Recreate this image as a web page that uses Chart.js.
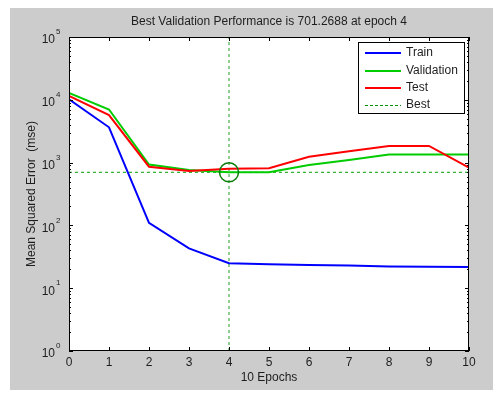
<!DOCTYPE html>
<html>
<head>
<meta charset="utf-8">
<script src="https://cdn.jsdelivr.net/npm/chart.js@4.4.0/dist/chart.umd.min.js"></script>
<style>
    body { margin: 0; background: #ffffff; }
    canvas { display: block; }
</style>
</head>
<body>
<canvas id="perf" width="502" height="399"></canvas>
<script>

var epochs = [0, 1, 2, 3, 4, 5, 6, 7, 8, 9, 10];

var trainPerf = [10200, 3650, 110, 43, 25, 24, 23.5, 23, 22.2, 22, 21.8];
var valPerf = [12900, 7000, 930, 760, 701.2688, 705, 915, 1100, 1350, 1350, 1350];
var testPerf = [11500, 5700, 860, 735, 800, 815, 1240, 1510, 1840, 1840, 830];

var bestEpoch = 4;
var bestPerf = 701.2688;

var seriesNames = ["Train", "Validation", "Test", "Best"];
var xTicks = [0, 1, 2, 3, 4, 5, 6, 7, 8, 9, 10];
var yDecades = [0, 1, 2, 3, 4, 5];

var titleText = "Best Validation Performance is 701.2688 at epoch 4";
var xTitle = "10 Epochs";
var yTitle = "Mean Squared Error  (mse)";


function points(values) {
    return epochs.map(function (e, i) {
        return {x: e, y: values[i]};
    });
}

var textColor = "#1e1e1e";
var font = "12px 'Liberation Sans', Arial, sans-serif";

// matlab style figure: gray figure, boxed axes, inward ticks
var matlabLook = {
    id: "matlabLook",
    beforeDraw: function (chart) {
        var c = chart.ctx;
        var a = chart.chartArea;
        c.save();
        c.fillStyle = "#cccccc";
        c.fillRect(10, 8, 483, 382);
        c.fillStyle = "#ffffff";
        c.fillRect(a.left, a.top, a.right - a.left, a.bottom - a.top);
        c.restore();
    },
    afterDraw: function (chart) {
        var c = chart.ctx;
        var a = chart.chartArea;
        var xs = chart.scales.x;
        var ys = chart.scales.y;

        c.save();
        c.strokeStyle = "#000000";
        c.lineWidth = 1;

        // box
        c.strokeRect(a.left + 0.5, a.top + 0.5, a.right - a.left - 1, a.bottom - a.top - 1);

        // x ticks
        c.beginPath();
        xTicks.forEach(function (t) {
            var px = Math.round(xs.getPixelForValue(t)) + 0.5;
            c.moveTo(px, a.bottom);
            c.lineTo(px, a.bottom - 4);
            c.moveTo(px, a.top);
            c.lineTo(px, a.top + 4);
        });

        // y ticks, major + minor
        yDecades.forEach(function (d) {
            for (var m = 1; m <= 9; m++) {
                if (d === 5 && m > 1) break;
                var py = Math.round(ys.getPixelForValue(m * Math.pow(10, d))) + 0.5;
                var len = (m === 1) ? 4 : 2;
                c.moveTo(a.left, py);
                c.lineTo(a.left + len, py);
                c.moveTo(a.right, py);
                c.lineTo(a.right - len, py);
            }
        });
        c.stroke();

        c.fillStyle = textColor;
        c.font = font;

        // x tick labels
        c.textAlign = "center";
        c.textBaseline = "middle";
        xTicks.forEach(function (t) {
            c.fillText(String(t), xs.getPixelForValue(t), a.bottom + 12);
        });

        // y tick labels 10^n
        yDecades.forEach(function (d) {
            var py = ys.getPixelForValue(Math.pow(10, d));
            c.font = font;
            c.textAlign = "right";
            c.fillText("10", a.left - 14, py + 3);
            c.font = "8px 'Liberation Sans', Arial, sans-serif";
            c.textAlign = "left";
            c.fillText(String(d), a.left - 13, py - 5);
        });

        // titles
        c.font = font;
        c.textAlign = "center";
        c.fillText(titleText, (a.left + a.right) / 2, 22);
        c.fillText(xTitle, (a.left + a.right) / 2, a.bottom + 27);

        c.save();
        c.translate(32, (a.top + a.bottom) / 2);
        c.rotate(-Math.PI / 2);
        c.fillText(yTitle, 0, 0);
        c.restore();

        // legend
        var lx = 358, ly = 42, lw = 107, lh = 72;
        c.fillStyle = "#ffffff";
        c.fillRect(lx, ly, lw, lh);
        c.strokeStyle = "#000000";
        c.strokeRect(lx + 0.5, ly + 0.5, lw - 1, lh - 1);

        var rows = [53, 71, 88, 105];
        var sample = [
            {color: "#0000ff", width: 2, dash: []},
            {color: "#00cc00", width: 2, dash: []},
            {color: "#ff0000", width: 2, dash: []},
            {color: "#009000", width: 1, dash: [3, 2]}
        ];
        seriesNames.forEach(function (name, i) {
            var y = rows[i] + (sample[i].width === 1 ? 0.5 : 0);
            c.beginPath();
            c.setLineDash(sample[i].dash);
            c.strokeStyle = sample[i].color;
            c.lineWidth = sample[i].width;
            c.moveTo(365, y);
            c.lineTo(401, y);
            c.stroke();
            c.setLineDash([]);
            c.fillStyle = textColor;
            c.textAlign = "left";
            c.fillText(name, 406, rows[i]);
        });

        c.restore();
    }
};


new Chart(document.getElementById("perf"), {
    type: "line",
    data: {
        datasets: [
            {
                label: "best point",
                data: [{x: bestEpoch, y: bestPerf}],
                showLine: false,
                pointRadius: 9.5,
                pointBorderWidth: 1.5,
                pointBorderColor: "#0a7d0a",
                pointBackgroundColor: "rgba(0,0,0,0)",
                order: 0
            },
            {
                label: seriesNames[2],
                data: points(testPerf),
                borderColor: "#ff0000",
                borderWidth: 2,
                pointRadius: 0,
                order: 1
            },
            {
                label: seriesNames[1],
                data: points(valPerf),
                borderColor: "#00cc00",
                borderWidth: 2,
                pointRadius: 0,
                order: 2
            },
            {
                label: seriesNames[0],
                data: points(trainPerf),
                borderColor: "#0000ff",
                borderWidth: 2,
                pointRadius: 0,
                order: 3
            },
            {
                label: seriesNames[3],
                data: [{x: epochs[0], y: bestPerf}, {x: epochs[epochs.length - 1], y: bestPerf}],
                borderColor: "#00a000",
                borderWidth: 1,
                borderDash: [3, 3],
                pointRadius: 0,
                order: 4
            },
            {
                label: "best epoch",
                data: [{x: bestEpoch, y: 1}, {x: bestEpoch, y: 100000}],
                borderColor: "#8fce8f",
                borderWidth: 2,
                borderDash: [3, 3],
                pointRadius: 0,
                order: 5
            }
        ]
    },
    options: {
        responsive: false,
        animation: false,
        layout: {
            padding: {left: 69, top: 37, right: 33, bottom: 48}
        },
        scales: {
            x: {type: "linear", min: 0, max: 10, display: false},
            y: {type: "logarithmic", min: 1, max: 100000, display: false}
        },
        plugins: {
            legend: {display: false},
            tooltip: {enabled: false}
        }
    },
    plugins: [matlabLook]
});

</script>
</body>
</html>
